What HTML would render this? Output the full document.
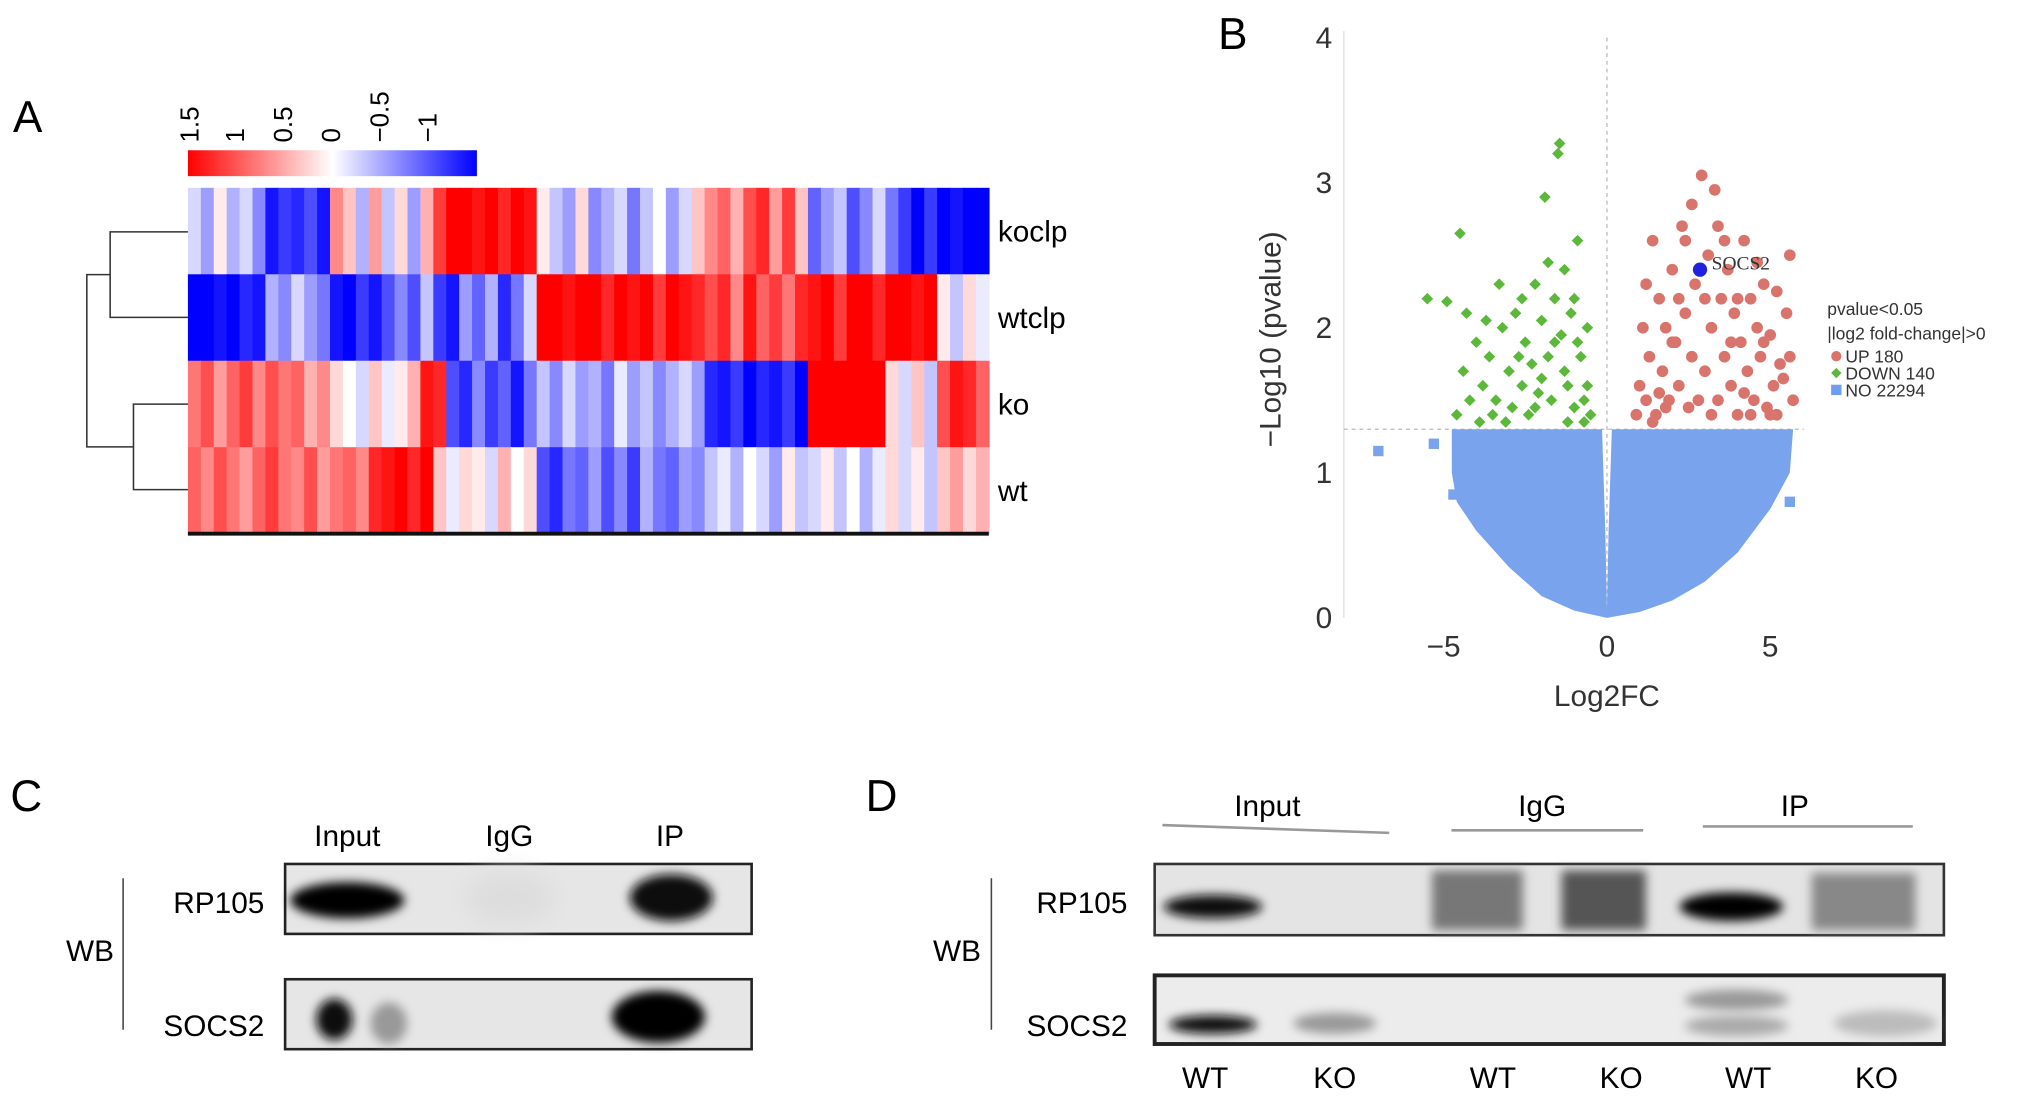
<!DOCTYPE html>
<html><head><meta charset="utf-8"><style>
html,body{margin:0;padding:0;background:#fff;}
svg{display:block;font-family:"Liberation Sans",Arial,sans-serif;}
</style></head><body>
<svg id="fig" width="2032" height="1101" viewBox="0 0 1568 850" preserveAspectRatio="none" xmlns="http://www.w3.org/2000/svg">
<defs>
<filter id="blur3" x="-50%" y="-50%" width="200%" height="200%"><feGaussianBlur stdDeviation="4"/></filter>
<filter id="blur8" x="-50%" y="-50%" width="200%" height="200%"><feGaussianBlur stdDeviation="9"/></filter>
<linearGradient id="cbar" x1="0" x2="1" y1="0" y2="0">
<stop offset="0" stop-color="#ff0000"/><stop offset="0.5" stop-color="#ffffff"/><stop offset="1" stop-color="#0000ff"/>
</linearGradient>
</defs>
<g id="panelA">
<text x="10" y="102" font-size="34">A</text>
<rect x="145" y="116" width="223" height="20" fill="url(#cbar)"/>
<g id="cbticks" font-size="20"></g>
<g id="heat"></g>
<line x1="145" y1="412" x2="763" y2="412" stroke="#111" stroke-width="3"/>
<g stroke="#333" stroke-width="1.2" fill="none">
<path d="M145,179 H85 V245 H145"/><path d="M145,312 H103 V378 H145"/><path d="M85,212 H67 V345 H103"/>
</g>
<g font-size="23" id="rowlabels"></g>
</g>

<g id="panelB">
<text x="940" y="38" font-size="34">B</text>
<g id="volc"></g>
<text x="1240" y="545" font-size="23" text-anchor="middle" fill="#333">Log2FC</text>
<text transform="translate(988,262) rotate(-90)" font-size="23" text-anchor="middle" fill="#333">−Log10 (pvalue)</text>
<g font-size="13.5" fill="#333">
<text x="1410" y="243">pvalue&lt;0.05</text>
<text x="1410" y="262">|log2 fold-change|&gt;0</text>
<circle cx="1417" cy="275" r="4" fill="#d9746c"/>
<text x="1424" y="280">UP 180</text>
<path d="M1417,284 l4,4 l-4,4 l-4,-4z" fill="#5cb83a"/>
<text x="1424" y="293">DOWN 140</text>
<rect x="1413" y="297" width="8" height="8" fill="#6f9ef0"/>
<text x="1424" y="306">NO 22294</text>
</g>
</g>

<g id="panelC">
<text x="8" y="626" font-size="34">C</text>
<g font-size="23" text-anchor="middle">
<text x="268" y="653">Input</text>
<text x="393" y="653">IgG</text>
<text x="517" y="653">IP</text>
</g>
<g font-size="23" text-anchor="end">
<text x="204" y="705">RP105</text>
<text x="204" y="800">SOCS2</text>
</g>
<text x="88" y="742" font-size="23" text-anchor="end">WB</text>
<line x1="95" y1="678" x2="95" y2="795" stroke="#444" stroke-width="1.2"/>
<g>
<rect x="220" y="667" width="360" height="54" fill="#e6e6e6" stroke="#222" stroke-width="2"/>
<ellipse cx="268" cy="695" rx="44" ry="14" fill="#000" filter="url(#blur3)"/>
<ellipse cx="518" cy="693" rx="32" ry="18" fill="#111" filter="url(#blur3)"/>
<ellipse cx="393" cy="693" rx="35" ry="20" fill="#ddd" filter="url(#blur8)"/>
</g>
<g>
<rect x="220" y="756" width="360" height="54" fill="#e6e6e6" stroke="#222" stroke-width="2"/>
<ellipse cx="258" cy="787" rx="14" ry="16" fill="#111" filter="url(#blur3)"/>
<ellipse cx="300" cy="790" rx="14" ry="16" fill="#999" filter="url(#blur3)"/>
<ellipse cx="508" cy="785" rx="36" ry="20" fill="#000" filter="url(#blur3)"/>
</g>
</g>

<g id="panelD">
<text x="668" y="626" font-size="34">D</text>
<g font-size="23" text-anchor="middle">
<text x="978" y="630">Input</text>
<text x="1190" y="630">IgG</text>
<text x="1385" y="630">IP</text>
</g>
<g stroke="#999" stroke-width="2">
<line x1="897" y1="637" x2="1072" y2="643"/><line x1="1120" y1="641" x2="1268" y2="641"/><line x1="1314" y1="638" x2="1476" y2="638"/>
</g>
<g font-size="23" text-anchor="end">
<text x="870" y="705">RP105</text>
<text x="870" y="800">SOCS2</text>
</g>
<text x="757" y="742" font-size="23" text-anchor="end">WB</text>
<line x1="765" y1="678" x2="765" y2="795" stroke="#444" stroke-width="1.2"/>
<g>
<rect x="891" y="667" width="609" height="55" fill="#e4e4e4" stroke="#333" stroke-width="2"/>
<ellipse cx="936" cy="700" rx="38" ry="9" fill="#111" filter="url(#blur3)"/>
<rect x="1105" y="672" width="70" height="46" fill="#777" filter="url(#blur3)"/>
<rect x="1205" y="672" width="65" height="46" fill="#555" filter="url(#blur3)"/>
<ellipse cx="1336" cy="700" rx="40" ry="11" fill="#000" filter="url(#blur3)"/>
<rect x="1398" y="674" width="80" height="44" fill="#888" filter="url(#blur3)"/>
</g>
<g>
<rect x="891" y="753" width="609" height="53" fill="#ececec" stroke="#222" stroke-width="3"/>
<ellipse cx="936" cy="791" rx="34" ry="7" fill="#111" filter="url(#blur3)"/>
<ellipse cx="1030" cy="790" rx="32" ry="8" fill="#999" filter="url(#blur3)"/>
<ellipse cx="1340" cy="772" rx="40" ry="8" fill="#999" filter="url(#blur3)"/>
<ellipse cx="1340" cy="792" rx="40" ry="8" fill="#aaa" filter="url(#blur3)"/>
<ellipse cx="1455" cy="790" rx="40" ry="10" fill="#bbb" filter="url(#blur3)"/>
</g>
<g font-size="23" text-anchor="middle">
<text x="930" y="840">WT</text>
<text x="1030" y="840">KO</text>
<text x="1152" y="840">WT</text>
<text x="1251" y="840">KO</text>
<text x="1349" y="840">WT</text>
<text x="1448" y="840">KO</text>
</g>
</g>
</svg>
<script>
// ---------- heatmap data ----------
const rowNames = ["koclp","wtclp","ko","wt"];
const heatKoclp = [-0.2,-0.5,0.1,-0.4,-0.2,-0.6,-1.2,-1.0,-1.1,-0.9,-1.2,0.6,0.3,-0.4,0.5,-0.3,0.2,-0.5,0.4,1.0,1.3,1.4,1.2,1.5,1.1,1.3,1.2,0.1,-0.3,-0.5,0.2,-0.6,-0.4,-0.2,-0.7,-0.3,0.0,-0.5,-0.2,0.3,0.6,0.8,0.4,0.9,1.1,0.5,1.0,0.3,-0.8,-0.5,-0.3,-0.9,-0.6,-0.2,-0.7,-1.0,-1.3,-1.0,-1.4,-1.2,-1.5,-1.3];
const heatWtclp = [-1.3,-1.4,-1.2,-1.3,-1.1,-1.2,-0.4,-0.6,-0.2,-0.5,-0.7,-1.2,-1.3,-1.0,-1.2,-0.9,-0.6,-0.9,-0.3,-1.0,-1.2,-0.5,-0.8,-0.4,-1.1,-0.7,-0.2,1.3,1.4,1.2,1.5,1.3,1.1,1.4,1.2,1.3,1.0,1.4,1.2,1.1,0.9,1.1,0.6,1.2,0.8,1.0,0.7,1.1,1.2,1.4,1.0,1.3,1.5,1.1,1.3,1.4,1.2,1.5,0.1,-0.3,0.2,-0.1];
const heatKo = [0.7,0.9,0.5,0.8,1.0,0.6,0.9,0.7,0.8,0.4,0.6,0.2,0.0,-0.2,0.3,-0.1,0.1,0.4,1.2,1.1,-0.9,-1.1,-0.6,-1.0,-0.8,-1.2,-0.7,-0.3,-0.6,-0.2,-0.5,-0.4,-0.7,-0.1,-0.5,-0.3,-0.6,-0.4,-0.2,-0.5,-1.1,-1.2,-1.0,-1.3,-1.1,-1.2,-1.0,-1.3,1.4,1.5,1.3,1.4,1.5,1.3,0.2,-0.2,0.3,-0.3,0.9,1.2,1.1,0.8];
const heatWt = [0.8,0.6,0.9,0.7,0.5,0.8,1.0,0.7,0.6,0.9,0.5,0.7,0.8,0.6,1.1,1.2,1.3,1.1,1.4,0.3,-0.1,0.2,0.1,-0.2,0.4,0.0,0.2,-0.9,-1.1,-0.7,-0.8,-0.5,-0.9,-0.6,-1.0,-0.4,-0.7,-0.8,-0.5,-0.6,-0.3,-0.1,-0.4,0.0,-0.2,-0.5,0.1,-0.3,-0.2,0.1,-0.3,0.0,-0.4,-0.1,0.2,-0.2,0.1,-0.3,0.3,0.5,0.2,0.4];
const cbTickLabels = ["1.5","1","0.5","0","−0.5","−1"];
const cbTickValues = [1.5,1,0.5,0,-0.5,-1];

// ---------- volcano data ----------
const xTicks = [-5,0,5];
const yTicks = [0,1,2,3,4];
const downPts = [[-5.5,2.2],[-4.9,2.18],[-4.5,2.65],[-4.3,2.1],[-4.0,1.9],[-3.8,1.6],[-3.6,1.8],[-3.4,1.5],[-3.2,2.0],[-3.0,1.7],[-2.9,1.45],[-2.8,2.1],[-2.6,1.6],[-2.5,1.9],[-2.4,1.4],[-2.3,1.75],[-2.2,2.3],[-2.1,1.55],[-2.0,2.05],[-1.9,2.9],[-1.8,1.8],[-1.7,1.5],[-1.6,2.2],[-1.5,3.2],[-1.45,3.27],[-1.4,1.95],[-1.3,2.4],[-1.2,1.6],[-1.1,2.1],[-1.0,1.45],[-0.9,2.6],[-0.8,1.8],[-0.7,1.5],[-0.6,2.0],[-0.5,1.4],[-4.6,1.4],[-4.2,1.5],[-3.9,1.35],[-3.5,1.4],[-3.1,1.35],[-2.7,1.8],[-2.2,1.45],[-1.8,2.45],[-1.3,1.7],[-0.9,1.9],[-0.6,1.6],[-3.3,2.3],[-2.6,2.2],[-1.6,1.9],[-1.0,2.2],[-4.4,1.7],[-3.7,2.05],[-2.0,1.65],[-1.2,1.35],[-0.7,1.35]];
const upPts = [[0.9,1.4],[1.0,1.6],[1.1,2.0],[1.2,1.5],[1.3,1.8],[1.4,2.6],[1.5,1.4],[1.6,2.2],[1.7,1.7],[1.8,2.0],[1.9,1.5],[2.0,2.4],[2.1,1.9],[2.2,1.6],[2.3,2.7],[2.4,2.1],[2.5,1.45],[2.6,1.8],[2.7,2.3],[2.9,3.05],[3.0,1.7],[3.1,2.5],[3.2,2.0],[3.3,2.95],[3.4,1.5],[3.5,2.2],[3.6,1.8],[3.7,2.4],[3.8,1.6],[3.9,2.1],[4.0,1.4],[4.1,1.9],[4.2,2.6],[4.3,1.7],[4.4,2.2],[4.5,1.5],[4.6,2.0],[4.7,1.8],[4.8,2.3],[4.9,1.45],[5.0,1.95],[5.1,1.6],[5.2,2.25],[5.3,1.75],[5.5,2.1],[5.6,2.5],[5.7,1.5],[1.2,2.3],[1.6,1.55],[2.0,1.9],[2.4,2.6],[2.8,1.5],[3.2,1.4],[3.6,2.6],[4.0,2.2],[4.4,1.4],[4.8,1.9],[5.2,1.4],[5.6,1.8],[2.6,2.85],[1.4,1.35],[3.0,2.2],[3.4,2.7],[4.6,2.45],[5.0,1.4],[1.8,1.45],[2.2,2.2],[3.8,1.9],[4.2,1.55],[5.4,1.65]];
const noEnvelope = [[-4.75,1.3],[-0.15,1.3],[-0.05,0.6],[0,0.05],[0.05,0.6],[0.15,1.3],[5.7,1.3],[5.6,1.0],[5.0,0.75],[4.0,0.45],[3.0,0.25],[2.0,0.12],[1.0,0.04],[0,0],[-1,0.05],[-2,0.15],[-3,0.35],[-4,0.6],[-4.6,0.8],[-4.75,1.0]];
const noOutliers = [[-7.0,1.15],[-5.3,1.2],[-4.7,0.85],[5.6,0.8]];
const socs2 = [2.85,2.4];
const pCut = 1.3;

const NS="http://www.w3.org/2000/svg";
function mk(tag, attrs, parent){const e=document.createElementNS(NS,tag);for(const k in attrs)e.setAttribute(k,attrs[k]);parent.appendChild(e);return e;}

// heatmap
function heatColor(v){const t=Math.min(Math.abs(v)/1.3,1);const c=Math.round(255*(1-t));return v>=0?`rgb(255,${c},${c})`:`rgb(${c},${c},255)`;}
const heat=document.getElementById('heat');
const rows=[heatKoclp,heatWtclp,heatKo,heatWt];
const hx0=145,hx1=763,hy0=145,rowH=66.75;
rows.forEach((row,ri)=>{
  const cw=(hx1-hx0)/row.length;
  row.forEach((v,ci)=>{
    const r=mk('rect',{x:hx0+ci*cw,y:hy0+ri*rowH,width:cw+0.6,height:rowH+0.4,fill:heatColor(v)},heat);
    
    
  });
});
const rl=document.getElementById('rowlabels');
rowNames.forEach((n,i)=>{const t=mk('text',{x:770,y:hy0+i*rowH+rowH/2+8},rl);t.textContent=n;
  
  });
const cb=document.getElementById('cbticks');
cbTickValues.forEach((v,i)=>{const x=145+(1.5-v)/3*223+ (i==0?8:6);
  const t=mk('text',{transform:`translate(${x},110) rotate(-90)`},cb);t.textContent=cbTickLabels[i];
  
  });

// volcano
const vg=document.getElementById('volc');
const sx=v=>1240+v*25.2, sy=v=>477-v*112;
mk('line',{x1:1037,y1:sy(4)-5,x2:1037,y2:sy(0),stroke:'#ddd','stroke-width':1},vg);
mk('line',{x1:sx(0),y1:sy(4),x2:sx(0),y2:sy(0),stroke:'#bbb','stroke-width':1,'stroke-dasharray':'3,3'},vg);
mk('line',{x1:1037,y1:sy(pCut),x2:1392,y2:sy(pCut),stroke:'#bbb','stroke-width':1,'stroke-dasharray':'3,3'},vg);
xTicks.forEach(v=>{const t=mk('text',{x:sx(v),y:507,'font-size':23,'text-anchor':'middle',fill:'#333'},vg);t.textContent=v<0?'−'+(-v):v;
  
  });
yTicks.forEach(v=>{const t=mk('text',{x:1028,y:sy(v)+8,'font-size':23,'text-anchor':'end',fill:'#333'},vg);t.textContent=v;
  
  });
const env=mk('path',{d:'M'+noEnvelope.map(p=>sx(p[0])+','+sy(p[1])).join(' L')+'Z',fill:'#7aa3ee'},vg);


noOutliers.forEach(p=>{const r=mk('rect',{x:sx(p[0])-4,y:sy(p[1])-4,width:8,height:8,fill:'#7aa3ee'},vg);
  
  });
downPts.forEach(p=>{const x=sx(p[0]),y=sy(p[1]);const d=mk('path',{d:`M${x},${y-4.5} l4.5,4.5 l-4.5,4.5 l-4.5,-4.5z`,fill:'#5cb83a'},vg);
  
  });
upPts.forEach(p=>{const c=mk('circle',{cx:sx(p[0]),cy:sy(p[1]),r:4.5,fill:'#d9746c'},vg);
  
  });
const sc=mk('circle',{cx:sx(socs2[0]),cy:sy(socs2[1]),r:5.5,fill:'#2020e0'},vg);


const sl=mk('text',{x:sx(socs2[0])+9,y:sy(socs2[1])+0,'font-size':15,fill:'#333','font-family':'Liberation Serif, serif'},vg);sl.textContent='SOCS2';


</script>
</body></html>
